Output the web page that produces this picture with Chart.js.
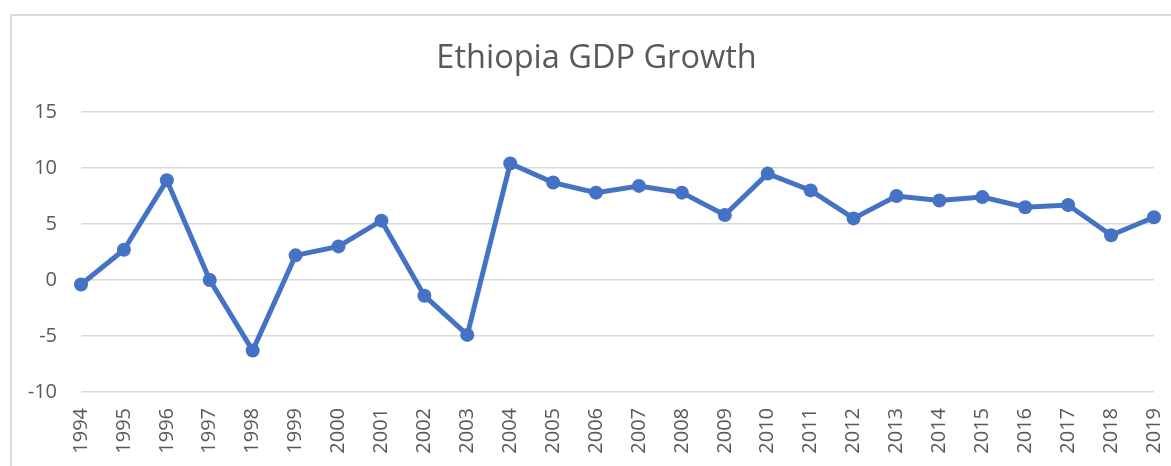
<!DOCTYPE html>
<html>
<head>
<meta charset="utf-8">
<script src="https://cdn.jsdelivr.net/npm/chart.js@4.4.1/dist/chart.umd.min.js"></script>
<style>
    body { margin: 0; background: #ffffff; overflow: hidden; }
    #frame {
        position: absolute;
        left: 10px;
        top: 14px;
        width: 1200px;
        height: 500px;
        border: 2px solid #d9d9d9;
    }
    #wrap {
        position: absolute;
        left: 0;
        top: 0;
        width: 1171px;
        height: 466px;
    }
</style>
</head>
<body>
<div id="frame"></div>
<div id="wrap"><canvas id="graficoLinha"></canvas></div>
<script>
var anos = ['1994', '1995', '1996', '1997', '1998', '1999', '2000', '2001', '2002', '2003',
    '2004', '2005', '2006', '2007', '2008', '2009', '2010', '2011', '2012', '2013',
    '2014', '2015', '2016', '2017', '2018', '2019'];
var crescimento = [-0.4, 2.7, 8.9, 0.0, -6.3, 2.2, 3.0, 5.3, -1.4, -4.9,
    10.4, 8.7, 7.8, 8.4, 7.8, 5.8, 9.5, 8.0, 5.5, 7.5,
    7.1, 7.4, 6.5, 6.7, 4.0, 5.6];
var ticksY = [-10, -5, 0, 5, 10, 15];

var corTexto = '#595959';
var azul = '#4472c4';

let ctx = document.getElementById('graficoLinha');

let graficoLinha = new Chart(ctx, {
    type: 'line',
    data: {
        labels: anos,
        datasets: [{
            label: 'GDP Growth',
            data: crescimento,
            borderColor: azul,
            backgroundColor: azul,
            borderWidth: 5,
            pointRadius: 7,
            pointBackgroundColor: azul,
            pointBorderWidth: 0,
            tension: 0
        }]
    },
    options: {
        responsive: true,
        maintainAspectRatio: false,
        animation: false,
        layout: {
            // padding esquerda desloca o titulo para o centro da moldura
            padding: { top: 39, left: 22, right: 0, bottom: 0 }
        },
        plugins: {
            legend: { display: false },
            tooltip: { enabled: false },
            title: {
                display: true,
                text: 'Ethiopia GDP Growth',
                color: corTexto,
                font: { family: 'Open Sans', size: 32.5, weight: 'normal', lineHeight: 1.2 },
                padding: { top: 0, bottom: 34 }
            }
        },
        scales: {
            x: {
                offset: false,
                grid: { display: false, drawTicks: false },
                border: { display: false },
                ticks: {
                    color: corTexto,
                    font: { family: 'Open Sans', size: 20 },
                    minRotation: 90,
                    maxRotation: 90,
                    autoSkip: false,
                    padding: 16
                },
                afterFit: function (scale) {
                    scale.height = 74;
                    scale.paddingRight = 17;
                }
            },
            y: {
                min: ticksY[0],
                max: ticksY[ticksY.length - 1],
                afterBuildTicks: function (scale) {
                    scale.ticks = ticksY.map(function (v) { return { value: v }; });
                },
                grid: { color: '#d9d9d9', lineWidth: 1.5, drawTicks: false },
                border: { display: false },
                ticks: {
                    color: corTexto,
                    font: { family: 'Open Sans', size: 20 },
                    padding: 24
                },
                afterFit: function (scale) {
                    scale.width = 59;
                }
            }
        }
    }
});
</script>
</body>
</html>
